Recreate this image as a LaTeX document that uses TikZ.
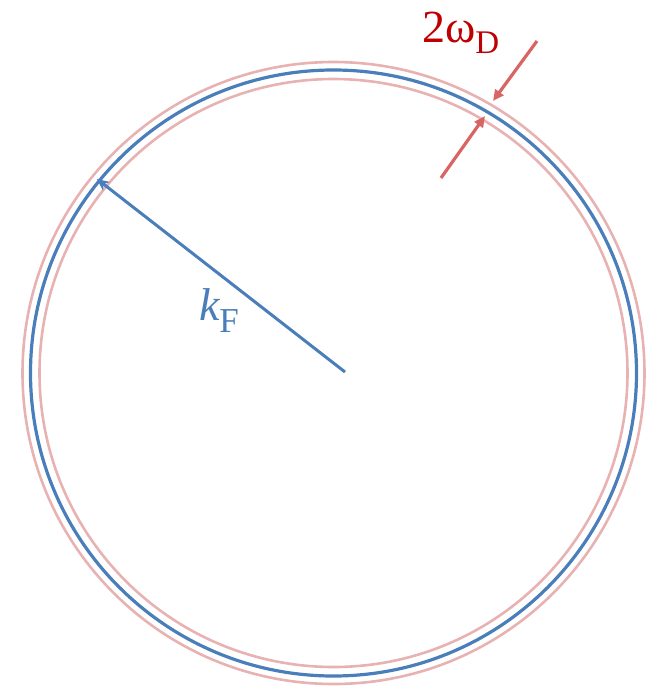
\documentclass[tikz,border=0pt]{standalone}
\usepackage{fontspec}
\setmainfont{Liberation Serif}
\usetikzlibrary{arrows.meta}
\definecolor{fermiBlue}{RGB}{74,126,187}
\definecolor{shellPink}{RGB}{232,178,178}
\definecolor{debyeRed}{RGB}{216,100,100}
\definecolor{labelRed}{RGB}{192,0,0}

\begin{document}
\begin{tikzpicture}[x=1pt, y=-1pt,
    sphere/.style={draw=fermiBlue, line width=3.2pt},
    shell/.style={draw=shellPink, line width=2.6pt},
    radiusarrow/.style={-{Stealth[length=12pt,width=11pt]}, draw=fermiBlue, line width=3pt},
    widtharrow/.style={-{Triangle[length=11pt,width=10pt]}, draw=debyeRed, line width=3.2pt},
    lbl/.style={text=#1, inner sep=0pt, anchor=base west, font=\fontsize{46}{46}\selectfont}
]
\useasboundingbox (0,0) rectangle (659,686);
\coordinate (c) at (333.5,373);
% Fermi sphere and the Debye shell
\draw[shell] (c) circle[radius=311pt];
\draw[shell] (c) circle[radius=294pt];
\draw[sphere] (c) circle[radius=303pt];
% radius k_F
\coordinate (kF tail) at (345,372);
\coordinate (kF tip) at (97,179);
\draw[radiusarrow] (kF tail) -- (kF tip);
\node[lbl=fermiBlue] (kF label) at (199,320) {\textit{k}\kern-1pt\raisebox{-12pt}{\fontsize{35}{35}\selectfont F}};
% shell width 2 omega_D
\coordinate (outer tail) at (537,41);
\coordinate (outer tip) at (493,101);
\coordinate (inner tail) at (441,178);
\coordinate (inner tip) at (485,116);
\draw[widtharrow] (outer tail) -- (outer tip);
\draw[widtharrow] (inner tail) -- (inner tip);
\node[lbl=labelRed] (width label) at (422,42) {2ω\raisebox{-11pt}{\fontsize{33}{33}\selectfont D}};
\end{tikzpicture}
\end{document}
